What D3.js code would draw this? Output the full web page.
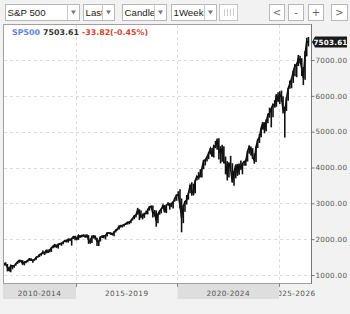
<html>
<meta charset="utf-8" />
<head>
<title>SP500 weekly</title>
<script src="https://cdn.jsdelivr.net/npm/d3@7/dist/d3.min.js"></script>
<style>
body { margin:0; background:#f2f2f2; font-family:"DejaVu Sans", sans-serif; }
svg { display:block; }
</style>
<script>
// monthly bars, first one is June 2011
let firstMonth = new Date(2011, 5, 1);

let closes = [
	1321,1292,1219,1131,1253,1247,1258,
	1312,1366,1408,1398,1310,1362,1379,1407,1441,1412,1416,1426,
	1498,1515,1569,1598,1631,1606,1686,1633,1682,1757,1806,1848,
	1783,1859,1872,1884,1924,1960,1931,2003,1972,2018,2068,2059,
	1995,2105,2068,2086,2107,2063,2104,1972,1920,2079,2080,2044,
	1940,1932,2060,2065,2097,2099,2174,2171,2168,2126,2199,2239,
	2279,2364,2363,2384,2412,2423,2470,2472,2519,2575,2648,2674,
	2824,2714,2641,2648,2705,2718,2816,2902,2914,2712,2760,2507,
	2704,2784,2834,2946,2752,2942,2980,2926,2977,3038,3141,3231,
	3226,2954,2585,2912,3044,3100,3271,3500,3363,3270,3622,3756,
	3714,3811,3973,4181,4204,4298,4395,4523,4308,4605,4567,4766,
	4516,4374,4530,4132,4132,3785,4130,3955,3586,3872,4080,3840,
	4077,3970,4109,4169,4180,4450,4589,4508,4288,4194,4568,4770,
	4846,5096,5254,5036,5278,5460,5522,5648,5762,5705,6032,5882,
	6041,5955,5612,5569,5912,6205,6339,6460,6688,6840,6849,7050,
	7000,6750,6500,7150,7520,7503.61
];
let highs = [
	1345,1356,1307,1230,1293,1277,1269,
	1333,1378,1420,1422,1415,1363,1392,1426,1475,1470,1434,1448,
	1503,1530,1570,1597,1687,1654,1698,1709,1730,1775,1813,1849,
	1850,1867,1884,1897,1924,1968,1991,2005,2019,2018,2075,2093,
	2064,2119,2117,2125,2134,2130,2133,2113,2021,2094,2117,2104,
	2038,1962,2075,2111,2103,2120,2177,2194,2187,2169,2214,2278,
	2301,2372,2401,2398,2418,2454,2484,2491,2520,2582,2657,2695,
	2873,2835,2801,2717,2742,2791,2849,2917,2941,2940,2815,2800,
	2708,2813,2860,2949,2954,2964,3028,3014,3022,3050,3154,3248,
	3338,3394,3136,2955,3068,3233,3280,3515,3588,3550,3645,3760,
	3870,3950,3983,4218,4238,4302,4429,4537,4546,4608,4743,4808,
	4818,4595,4637,4593,4307,4177,4141,4325,4119,3905,4080,4101,
	4095,4195,4110,4170,4231,4458,4607,4584,4541,4393,4587,4793,
	4932,5111,5265,5264,5341,5505,5670,5651,5767,5878,6044,6099,
	6128,6147,5986,5695,5969,6215,6427,6509,6700,6890,6920,7140,
	7120,7050,6800,7250,7620,7640
];
let lows = [
	1258,1283,1101,1115,1075,1159,1202,
	1259,1310,1340,1358,1292,1267,1325,1355,1397,1403,1343,1398,
	1426,1485,1501,1536,1581,1560,1604,1627,1633,1646,1746,1767,
	1770,1737,1834,1815,1860,1915,1930,1904,1964,1821,2002,1973,
	1988,1981,2039,2048,2067,2056,2044,1867,1872,1893,2019,1993,
	1812,1810,1937,2033,2025,1992,2075,2147,2119,2114,2084,2187,
	2245,2267,2322,2328,2352,2405,2407,2418,2446,2520,2557,2605,
	2682,2533,2586,2553,2594,2698,2691,2796,2864,2603,2631,2347,
	2444,2681,2722,2848,2750,2728,2952,2822,2892,2855,3050,3071,
	3214,2855,2192,2447,2767,2966,3101,3284,3209,3234,3280,3634,
	3662,3725,3723,3955,4056,4164,4233,4368,4305,4278,4560,4495,
	4223,4115,4157,4125,3811,3637,3721,3955,3584,3492,3698,3765,
	3795,3943,3809,4049,4048,4166,4385,4335,4238,4104,4156,4546,
	4683,4845,5056,4954,5011,5234,5390,5120,5403,5674,5696,5832,
	5773,5837,5505,4835,5578,5861,6201,6212,6360,6550,6520,6830,
	6900,6550,6300,6450,7100,7380
];

let yTicks = [1000, 2000, 3000, 4000, 5000, 6000, 7000];
let yearLines = [2015, 2020, 2025];
let periodLabels = ["2010-2014", "2015-2019", "2020-2024", "2025-2026"];
let periodStarts = [2010, 2015, 2020, 2025];
let selects = [["S&P 500", 5, 79], ["Last", 83, 114], ["Candle", 122, 166], ["1Week", 171, 216]];
let buttons = [["<", 269, 284], ["-", 288, 303], ["+", 308, 323], [">", 331, 347]];
let legend = { name: "SP500", last: "7503.61", change: "-33.82(-0.45%)" };

window.onload = function() {
	let svg = d3.select('svg');

	let left = 3, right = 311, top = 24, bottom = 283;

	let x = d3.scaleTime()
		.domain([new Date(2015, 0, 1), new Date(2025, 0, 1)])
		.range([76, 279]);
	let y = d3.scaleLinear().domain([1000, 7000]).range([275, 60]);

	let data = closes.map((c, i) => {
		let d = d3.timeMonth.offset(firstMonth, i);
		return { date: d3.timeDay.offset(d, 14), close: c, high: highs[i], low: lows[i] };
	});

	// toolbar
	let tb = svg.append('g');
	selects.forEach((s) => {
		tb.append('rect').attr('x', s[1] + 0.5).attr('y', 4.5).attr('width', s[2] - s[1]).attr('height', 16)
			.style('fill', 'white').style('stroke', '#b8b8b8');
		tb.append('text').attr('x', s[1] + 2.5).attr('y', 16.2)
			.style('font-family', '"Liberation Sans", Arial, sans-serif').style('font-size', '9.7px').style('fill', '#222')
			.text(s[0]);
		// arrow part covers overflowing text
		tb.append('rect').attr('x', s[2] - 11.5).attr('y', 5).attr('width', 11.5).attr('height', 15).style('fill', 'white');
		tb.append('line').attr('x1', s[2] - 11.5).attr('x2', s[2] - 11.5).attr('y1', 5).attr('y2', 20).style('stroke', '#c8c8c8');
		tb.append('path').attr('d', `M${s[2] - 8},10.5 l5,0 l-2.5,4 z`).style('fill', '#777');
	});
	tb.append('rect').attr('x', 219.5).attr('y', 4.5).attr('width', 18).attr('height', 16)
		.style('fill', 'white').style('stroke', '#c4c4c4');
	[224, 227, 230, 233].forEach((bx) => {
		tb.append('line').attr('x1', bx + 0.5).attr('x2', bx + 0.5).attr('y1', 9).attr('y2', 16).style('stroke', '#ccc');
	});
	buttons.forEach((b) => {
		tb.append('rect').attr('x', b[1] + 0.5).attr('y', 4.5).attr('width', b[2] - b[1]).attr('height', 16)
			.style('fill', 'white').style('stroke', '#b8b8b8');
		tb.append('text').attr('x', (b[1] + b[2]) / 2 + 0.5).attr('y', 16).attr('text-anchor', 'middle')
			.style('font-size', '10px').style('fill', '#666').text(b[0]);
	});

	// plot area
	svg.append('rect').attr('x', left + 0.5).attr('y', top + 0.5)
		.attr('width', right - left).attr('height', bottom - top)
		.style('fill', 'white').style('stroke', '#a0a0a0');

	// bottom period tabs
	periodStarts.forEach((p, i) => {
		let x0 = Math.max(left, x(new Date(p, 0, 1)));
		let x1 = Math.min(right, x(new Date(p + 5, 0, 1)));
		if (i % 2 == 0 && i < 3) {
			svg.append('rect').attr('x', x0).attr('y', bottom + 1).attr('width', x1 - x0).attr('height', 15)
				.style('fill', '#dedede');
		}
	});
	svg.append('clipPath').attr('id', 'tabclip').append('rect')
		.attr('x', x(new Date(2025, 0, 1))).attr('y', bottom).attr('width', 80).attr('height', 20);
	periodLabels.forEach((lab, i) => {
		let x0 = Math.max(left, x(new Date(periodStarts[i], 0, 1)));
		let x1 = Math.min(right, x(new Date(periodStarts[i] + 5, 0, 1)));
		let t = svg.append('text').attr('y', 296)
			.style('font-size', '7.3px').style('letter-spacing', '0.4px').style('fill', '#555').text(lab);
		if (i < 3) {
			t.attr('x', (x0 + x1) / 2).attr('text-anchor', 'middle');
		} else {
			t.attr('x', 315.5).attr('text-anchor', 'end').attr('clip-path', 'url(#tabclip)');
		}
	});

	// grid
	let grid = svg.append('g').style('stroke', '#dcdcdc').style('stroke-dasharray', '3,3');
	grid.selectAll('.h').data(yTicks).enter().append('line')
		.attr('x1', left + 1).attr('x2', right)
		.attr('y1', (d) => Math.round(y(d)) + 0.5).attr('y2', (d) => Math.round(y(d)) + 0.5);
	grid.selectAll('.v').data(yearLines).enter().append('line')
		.attr('x1', (d) => Math.round(x(new Date(d, 0, 1))) + 0.5).attr('x2', (d) => Math.round(x(new Date(d, 0, 1))) + 0.5)
		.attr('y1', top + 1).attr('y2', bottom);

	// bottom ticks
	svg.selectAll('.bt').data(yearLines).enter().append('line')
		.attr('x1', (d) => Math.round(x(new Date(d, 0, 1))) + 0.5).attr('x2', (d) => Math.round(x(new Date(d, 0, 1))) + 0.5)
		.attr('y1', bottom).attr('y2', bottom + 4).style('stroke', '#888');

	// right axis
	let yAxis = d3.axisRight(y).tickValues(yTicks).tickSize(3).tickPadding(1).tickFormat(d3.format('.2f'));
	let ag = svg.append('g').attr('transform', `translate(${right + 0.5},0)`).call(yAxis);
	ag.select('.domain').remove();
	ag.selectAll('line').style('stroke', '#777');
	ag.selectAll('text').style('font-family', '"DejaVu Sans", sans-serif').style('font-size', '7.2px')
		.style('letter-spacing', '0.3px').style('fill', '#555');
	svg.append('line').attr('x1', right + 0.5).attr('x2', right + 0.5).attr('y1', top).attr('y2', bottom + 1)
		.style('stroke', '#777');

	// price series
	svg.append('clipPath').attr('id', 'plotclip').append('rect')
		.attr('x', left + 1).attr('y', top + 1).attr('width', right - left - 1).attr('height', bottom - top - 1);
	let series = svg.append('g').attr('clip-path', 'url(#plotclip)');
	series.selectAll('.bar').data(data).enter().append('line')
		.attr('x1', (d) => x(d.date)).attr('x2', (d) => x(d.date))
		.attr('y1', (d) => y(d.high)).attr('y2', (d) => y(d.low))
		.style('stroke', '#111').style('stroke-width', 1.6);
	series.append('path').datum(data)
		.attr('d', d3.line().x((d) => x(d.date)).y((d) => y(d.close)))
		.style('fill', 'none').style('stroke', '#111').style('stroke-width', 1.6);

	// last price marker
	let last = data[data.length - 1];
	let ly = y(last.close);
	svg.append('path')
		.attr('d', `M${right + 1},${ly} L${right + 4},${ly - 5.5} L347,${ly - 5.5} L347,${ly + 5.5} L${right + 4},${ly + 5.5} Z`)
		.style('fill', '#1a1a1a');
	svg.append('text').attr('x', 330.5).attr('y', ly + 3).attr('text-anchor', 'middle')
		.style('font-size', '7.2px').style('font-weight', 'bold').style('letter-spacing', '0.2px').style('fill', 'white')
		.text(legend.last);

	// legend
	let lg = svg.append('text').attr('x', 12).attr('y', 35)
		.style('font-size', '7.9px').style('font-weight', 'bold');
	lg.append('tspan').style('fill', '#5b83db').text(legend.name);
	lg.append('tspan').attr('dx', 3).style('fill', '#333').text(legend.last);
	lg.append('tspan').attr('dx', 3).style('fill', '#d2432f').text(legend.change);
}
</script>
</head>
<body>
<svg width="350" height="314"></svg>
</body>
</html>
